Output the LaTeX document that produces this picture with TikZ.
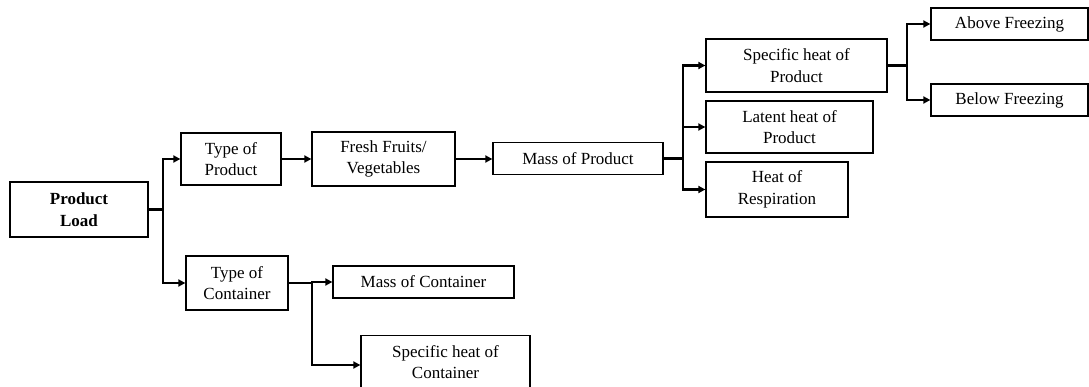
\documentclass[tikz,border=0pt]{standalone}
\usepackage{fontspec}
\setmainfont{Liberation Serif}
\usetikzlibrary{arrows.meta}
\begin{document}
\begin{tikzpicture}[x=1pt,y=-1pt,
  box/.style={draw=black,line width=1.3pt,fill=white,inner sep=0pt,align=center,
    font=\fontsize{17}{21.5}\selectfont},
  conn/.style={line width=2.2pt,black},
  arr/.style={conn,-{Triangle[length=7pt,width=7pt]}},
]
\useasboundingbox (0,0) rectangle (1089,387);
\fill[white] (0,0) rectangle (1089,387);
% boxes
\node[box,minimum width=138pt,minimum height=55pt] (PL) at (79,209.5) {\textbf{Product}\\\textbf{Load}};
\node[box,minimum width=100pt,minimum height=52pt] (TP) at (231,159) {Type of\\Product};
\node[box,minimum width=102pt,minimum height=54pt] (TC) at (237,283) {Type of\\Container};
\node[box,minimum width=143pt,minimum height=54pt] (FF) at (383.5,159) {Fresh Fruits/\\Vegetables};
\node[box,minimum width=170pt,minimum height=32pt] (MP) at (578,158.5) {Mass of Product};
\node[box,minimum width=181pt,minimum height=53pt] (SHP) at (796.5,65.5) {Specific heat of\\Product};
\node[box,minimum width=167pt,minimum height=52pt] (LHP) at (789.5,127) {Latent heat of\\Product};
\node[box,minimum width=142pt,minimum height=55pt] (HR) at (777,189.5) {Heat of\\Respiration};
\node[box,minimum width=157pt,minimum height=32pt] (AF) at (1009.5,24) {Above Freezing};
\node[box,minimum width=157pt,minimum height=32pt] (BF) at (1009.5,100) {Below Freezing};
\node[box,minimum width=181pt,minimum height=32pt] (MC) at (423.5,282) {Mass of Container};
\node[box,minimum width=169pt,minimum height=53pt] (SHC) at (445.5,362) {Specific heat of\\Container};
% branch points
\coordinate (b1) at (163,209.5);
\coordinate (b2) at (683,158.5);
\coordinate (b3) at (907,65.5);
\coordinate (b4) at (312,283);
% connectors
\draw[conn] (PL.east) -- (b1);
\draw[arr] (b1) |- (TP.west);
\draw[arr] (b1) |- (TC.west);
\draw[arr] (TP.east) -- (FF.west);
\draw[arr] (FF.east) -- (FF.east -| MP.west);
\draw[conn] (MP.east) -- (b2);
\draw[arr] (b2) |- (SHP.west);
\draw[arr] (b2) |- (LHP.west);
\draw[arr] (b2) |- (HR.west);
\draw[conn] (SHP.east) -- (b3);
\draw[arr] (b3) |- (AF.west);
\draw[arr] (b3) |- (BF.west);
\draw[conn] (TC.east) -- (b4);
\draw[arr] (b4) |- (MC.west);
\draw[arr] (b4) |- ([yshift=-3pt]SHC.west);
\end{tikzpicture}
\end{document}
